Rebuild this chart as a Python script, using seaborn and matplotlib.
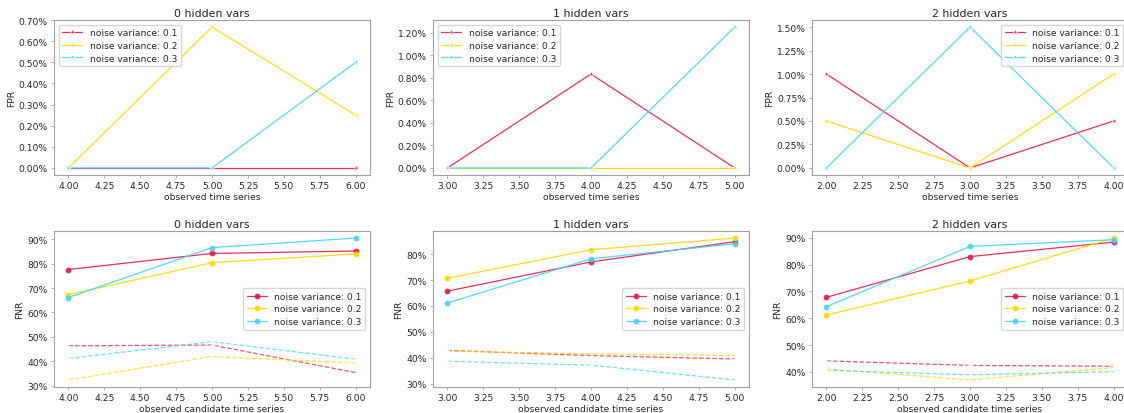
import matplotlib
matplotlib.use("Agg")
import matplotlib.pyplot as plt
from matplotlib.ticker import PercentFormatter
import seaborn as sns
import pandas as pd

sns.set_theme(style="white")
plt.rcParams["font.family"] = ["DejaVu Sans"]

noise_levels = ["0.1", "0.2", "0.3"]
colors = ["#e6194b", "#ffd700", "#42d4f4"]
hidden_titles = ["0 hidden vars", "1 hidden vars", "2 hidden vars"]

# observed series counts for each hidden-variable setting
x_obs = [[4, 5, 6], [3, 4, 5], [2, 3, 4]]

# false positive rate (fraction) per hidden setting, per noise level
fpr_h0 = [[0.0, 0.0, 0.0], [0.0, 0.00667, 0.0025], [0.0, 0.0, 0.005]]
fpr_h1 = [[0.0, 0.00833, 0.0], [0.0, 0.0, 0.0], [0.0, 0.0, 0.0125]]
fpr_h2 = [[0.01, 0.0, 0.005], [0.005, 0.0, 0.01], [0.0, 0.015, 0.0]]

# false negative rate (%) – solid lines
fnr_h0 = [[77.6, 84.2, 85.2], [67.3, 80.4, 84.0], [66.1, 86.6, 90.5]]
fnr_h1 = [[65.7, 77.0, 84.8], [70.7, 81.7, 86.2], [61.1, 78.2, 84.0]]
fnr_h2 = [[67.8, 83.0, 88.4], [61.2, 73.9, 89.9], [64.3, 86.8, 89.3]]

# false negative rate (%) – dashed comparison lines
fnr2_h0 = [[46.3, 46.6, 35.3], [32.3, 41.9, 39.2], [41.1, 48.0, 40.8]]
fnr2_h1 = [[42.8, 40.8, 39.5], [42.5, 41.5, 40.8], [38.6, 37.1, 31.4]]
fnr2_h2 = [[44.1, 42.4, 42.1], [41.1, 37.0, 41.6], [40.6, 38.9, 40.1]]

fpr_all = [fpr_h0, fpr_h1, fpr_h2]
fnr_all = [fnr_h0, fnr_h1, fnr_h2]
fnr2_all = [fnr2_h0, fnr2_h1, fnr2_h2]

W, H = 1124, 414
fig = plt.figure(figsize=(W / 100, H / 100), dpi=100)

lefts = [54, 433, 812]
ax_w = 316
top_rows = (21, 176)
bot_rows = (232, 388)

TICK_FS = 6.6
LEG_FS = 6.6
TITLE_FS = 7.9
SPINE_C = "#a0a0a0"
TEXT_C = "#262626"


def make_ax(left, rows):
    t, b = rows
    return fig.add_axes([left / W, 1 - b / H, ax_w / W, (b - t) / H])


def style_ax(ax, title, xlabel, ylabel):
    ax.set_title(title, fontsize=TITLE_FS, color=TEXT_C, pad=3)
    ax.set_xlabel(xlabel, fontsize=TICK_FS, color=TEXT_C, labelpad=1)
    ax.set_ylabel(ylabel, fontsize=TICK_FS, color=TEXT_C, labelpad=2)
    ax.tick_params(axis="both", labelsize=TICK_FS, colors=TEXT_C, length=2.5,
                   width=0.6, pad=2, bottom=True, left=True, color=SPINE_C)
    for s in ax.spines.values():
        s.set_color(SPINE_C)
        s.set_linewidth(0.8)
    ax.grid(False)


LEG_KW = dict(fontsize=LEG_FS, frameon=True, handlelength=2.2, borderpad=0.4,
              labelspacing=0.4, handletextpad=0.8, borderaxespad=0.5)

leg_locs_top = ["upper left", "upper left", "upper right"]

for i in range(3):
    ax = make_ax(lefts[i], top_rows)
    xs = x_obs[i]
    for j, nl in enumerate(noise_levels):
        df = pd.DataFrame({"x": xs, "y": fpr_all[i][j]})
        sns.lineplot(data=df, x="x", y="y", ax=ax, color=colors[j], marker="*",
                     markersize=5, markeredgewidth=0.5, linewidth=0.9, alpha=0.9,
                     label=f"noise variance: {nl}")
    ax.yaxis.set_major_formatter(PercentFormatter(xmax=1, decimals=2))
    style_ax(ax, hidden_titles[i], "observed time series", "FPR")
    ax.legend(loc=leg_locs_top[i], **LEG_KW)

for i in range(3):
    ax = make_ax(lefts[i], bot_rows)
    xs = x_obs[i]
    for j, nl in enumerate(noise_levels):
        df = pd.DataFrame({"x": xs, "y": fnr_all[i][j]})
        sns.lineplot(data=df, x="x", y="y", ax=ax, color=colors[j], marker="o",
                     markersize=4.2, markeredgewidth=0, linewidth=0.9, alpha=0.9,
                     label=f"noise variance: {nl}")
    for j, nl in enumerate(noise_levels):
        df = pd.DataFrame({"x": xs, "y": fnr2_all[i][j]})
        sns.lineplot(data=df, x="x", y="y", ax=ax, color=colors[j], marker="+",
                     markersize=5, markeredgewidth=0.8, linewidth=0.9, alpha=0.75,
                     linestyle="--", legend=False)
    ax.yaxis.set_major_formatter(PercentFormatter(xmax=100, decimals=0))
    style_ax(ax, hidden_titles[i], "observed candidate time series", "FNR")
    handles, labels = ax.get_legend_handles_labels()
    ax.legend(handles[:3], labels[:3], loc="center right", **LEG_KW)

fig.savefig("out.png", dpi=100)
